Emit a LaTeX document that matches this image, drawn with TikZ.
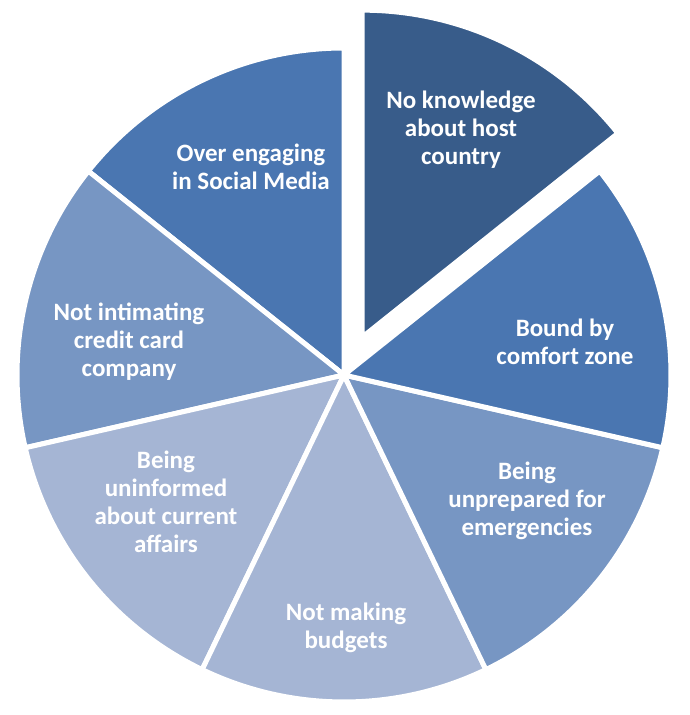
\documentclass[tikz,border=0pt]{standalone}
\usepackage{fontspec}
\setmainfont{Carlito}
\usepackage{tikz}
\usetikzlibrary{calc}
\usetikzlibrary{positioning}

\definecolor{pieDark}{RGB}{56,92,138}
\definecolor{pieMid}{RGB}{74,118,177}
\definecolor{pieLight}{RGB}{119,150,195}
\definecolor{piePale}{RGB}{165,181,212}

\begin{document}
\begin{tikzpicture}[x=1pt,y=1pt,
  slice/.style={draw=white,line width=5pt,line join=round},
  lbl/.style={text=white,align=center,font=\bfseries\fontsize{25}{28}\selectfont}]

\useasboundingbox (0,0) rectangle (690,715);

\coordinate (ctr) at (344,340);
\coordinate (ctrx) at ($(ctr)+(64.29:42pt)$);

\draw[slice,fill=pieMid]   (ctr) -- ++(90:327pt)     arc[start angle=90,end angle=141.43,radius=327pt] -- cycle;
\draw[slice,fill=pieLight] (ctr) -- ++(141.43:327pt) arc[start angle=141.43,end angle=192.86,radius=327pt] -- cycle;
\draw[slice,fill=piePale]  (ctr) -- ++(192.86:327pt) arc[start angle=192.86,end angle=244.29,radius=327pt] -- cycle;
\draw[slice,fill=piePale]  (ctr) -- ++(244.29:327pt) arc[start angle=244.29,end angle=295.71,radius=327pt] -- cycle;
\draw[slice,fill=pieLight] (ctr) -- ++(295.71:327pt) arc[start angle=295.71,end angle=347.14,radius=327pt] -- cycle;
\draw[slice,fill=pieMid]   (ctr) -- ++(347.14:327pt) arc[start angle=347.14,end angle=398.57,radius=327pt] -- cycle;
%\draw[slice,fill=pieDark] (ctr) -- ++(38.57:327pt) arc[start angle=38.57,end angle=90,radius=327pt] -- cycle;
\draw[slice,fill=pieDark]  (ctrx) -- ++(38.57:327pt) arc[start angle=38.57,end angle=90,radius=327pt] -- cycle;

\node[lbl] (host)    at (461,585) {No knowledge\\about host\\country};
\node[lbl] (comfort) at (565,373) {Bound by\\comfort zone};
\node[lbl] (emerg)   at (527,214) {Being\\unprepared for\\emergencies};
\node[lbl] (budget)  at (346,87)  {Not making\\budgets};
\node[lbl] (affairs) at (166,213) {Being\\uninformed\\about current\\affairs};
\node[lbl] (credit)  at (129,373) {Not intimating\\credit card\\company};
\node[lbl] (social)  at (251,548) {Over engaging\\in Social Media};
\end{tikzpicture}
\end{document}
